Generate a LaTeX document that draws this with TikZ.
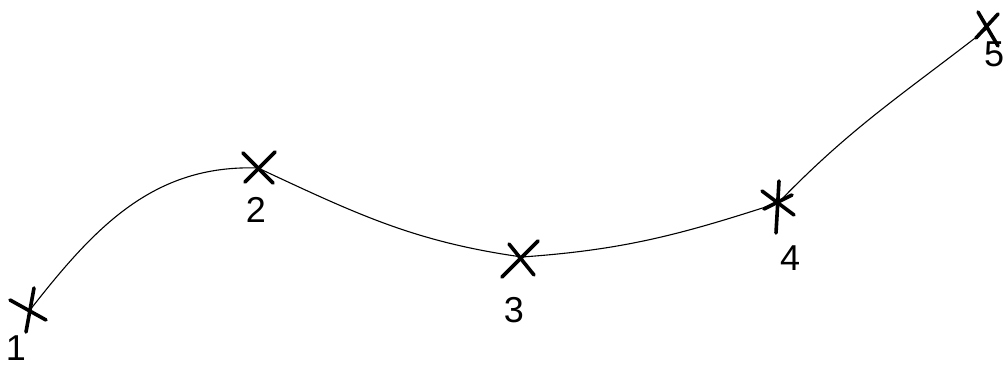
\documentclass[tikz,border=0pt]{standalone}
\usepackage{fontspec}
\setmainfont{Liberation Sans}
\begin{document}
\begin{tikzpicture}[x=1pt,y=1pt,
  curve/.style={line width=1.1pt, line cap=round},
  xmark/.style={line width=3.6pt, line cap=round},
  digit/.style={font=\fontsize{36}{36}\selectfont, inner sep=0pt}]
\useasboundingbox[fill=white] (0,0) rectangle (1006,366);
% points
\coordinate (p1) at (30,56);
\coordinate (p2) at (258,198);
\coordinate (p3) at (522,109);
\coordinate (p4) at (778,163);
\coordinate (p5) at (988,338);
% curve
\draw[curve] (p1) to[out=52,in=178] (p2)
  to[out=-25,in=172] (p3)
  to[out=4,in=198] (p4)
  to[out=46,in=218] (p5);
% crosses
\draw[xmark] ([shift={(-4,-22)}]p1) -- ([shift={(4,22)}]p1);
\draw[xmark] ([shift={(-20,10)}]p1) -- ([shift={(16,-10)}]p1);
\draw[xmark] ([shift={(-15,15)}]p2) -- ([shift={(15,-15)}]p2);
\draw[xmark] ([shift={(-13,-14)}]p2) -- ([shift={(17,16)}]p2);
\draw[xmark] ([shift={(-13,13)}]p3) -- ([shift={(12,-18)}]p3);
\draw[xmark] ([shift={(-20,-20)}]p3) -- ([shift={(16,16)}]p3);
\draw[xmark] ([shift={(-2,-30)}]p4) -- ([shift={(1,22)}]p4);
\draw[xmark] ([shift={(-16,12)}]p4) -- ([shift={(16,-12)}]p4);
\draw[xmark] ([shift={(-14,-6)}]p4) -- ([shift={(14,8)}]p4);
\draw[xmark] ([shift={(-10,16)}]p5) -- ([shift={(10,-18)}]p5);
\draw[xmark] ([shift={(-12,-10)}]p5) -- ([shift={(10,14)}]p5);
% labels
\node[digit] (l1) at (16,18) {1};
\node[digit] (l2) at (256,156) {2};
\node[digit] (l3) at (514,56) {3};
\node[digit] (l4) at (790,108) {4};
\node[digit] (l5) at (994,312) {5};
\end{tikzpicture}
\end{document}
